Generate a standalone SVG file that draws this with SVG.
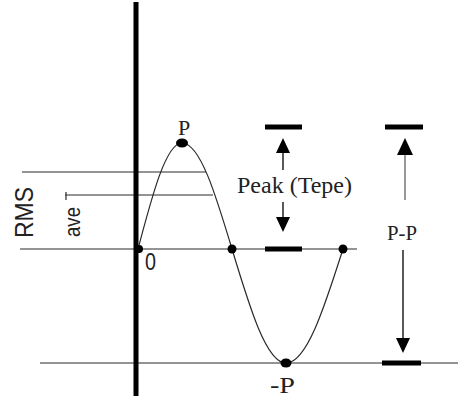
<svg xmlns="http://www.w3.org/2000/svg" width="458" height="401" viewBox="0 0 458 401">
<style>
.thin{stroke:#2a2a2a;stroke-width:1.2;fill:none}
.bar{fill:#000}
.serif{font-family:"Liberation Serif","Times New Roman",serif;fill:#222}
.sans{font-family:"Liberation Sans",Arial,sans-serif;fill:#222}
.head{fill:#000}
</style>
<rect width="458" height="401" fill="#fff"/>
<g id="levels">
<line class="thin" x1="22" y1="172" x2="206" y2="172"/>
<line class="thin" x1="65" y1="195" x2="213" y2="195"/>
<line class="thin" x1="66" y1="192" x2="66" y2="200"/>
<line class="thin" x1="20" y1="249" x2="357" y2="249"/>
<line class="thin" x1="40" y1="363" x2="458" y2="363"/>
</g>
<g id="axis">
<line x1="136" y1="2" x2="136" y2="396" stroke="#000" stroke-width="5"/>
</g>
<g id="curve">
<path class="thin" stroke-width="1.4" d="M138,249 C152.35,194.7 166.07,143 182,143 C200.1,143 215.69,194.7 232,249 C249.61,307.4 266.46,363 286,363 C306.63,363 324.41,307.4 343,249"/>
<ellipse cx="182" cy="143" rx="6" ry="4.5" fill="#000"/>
<circle cx="139" cy="249" r="4" fill="#000"/>
<circle cx="232" cy="249" r="4.5" fill="#000"/>
<circle cx="343" cy="249" r="4.5" fill="#000"/>
<ellipse cx="286" cy="363" rx="5.5" ry="4.5" fill="#000"/>
</g>
<g id="peak">
<rect class="bar" x="265" y="124.5" width="37" height="5"/>
<rect class="bar" x="265" y="246.5" width="37" height="5"/>
<polygon class="head" points="283,138 276,153 290,153"/>
<line x1="283" y1="153" x2="283" y2="170" stroke="#222" stroke-width="1.5"/>
<line x1="283" y1="202" x2="283" y2="217" stroke="#222" stroke-width="1.5"/>
<polygon class="head" points="283,232 276,217 290,217"/>
<text class="serif" x="237" y="193" font-size="24" textLength="115" lengthAdjust="spacingAndGlyphs">Peak (Tepe)</text>
</g>
<g id="pp">
<rect class="bar" x="385" y="124.5" width="38" height="5"/>
<rect class="bar" x="382" y="360.5" width="39" height="5"/>
<polygon class="head" points="405,138 397,155 413,155"/>
<line x1="405" y1="155" x2="405" y2="200" stroke="#999" stroke-width="2"/>
<line x1="403" y1="250" x2="403" y2="338" stroke="#222" stroke-width="1.5"/>
<polygon class="head" points="403,353 396,338 410,338"/>
<text class="serif" x="387" y="240" font-size="22" textLength="30" lengthAdjust="spacingAndGlyphs">P-P</text>
</g>
<g id="labels">
<text class="serif" x="178" y="135" font-size="22">P</text>
<text class="serif" x="270" y="393" font-size="24" textLength="25" lengthAdjust="spacingAndGlyphs">-P</text>
<text class="sans" x="145" y="270" font-size="23" textLength="11" lengthAdjust="spacingAndGlyphs">0</text>
<text class="sans" transform="translate(33,238) rotate(-90)" font-size="26" textLength="51" lengthAdjust="spacingAndGlyphs">RMS</text>
<text class="sans" transform="translate(80,237) rotate(-90)" font-size="22" textLength="30" lengthAdjust="spacingAndGlyphs">ave</text>
</g>
</svg>
